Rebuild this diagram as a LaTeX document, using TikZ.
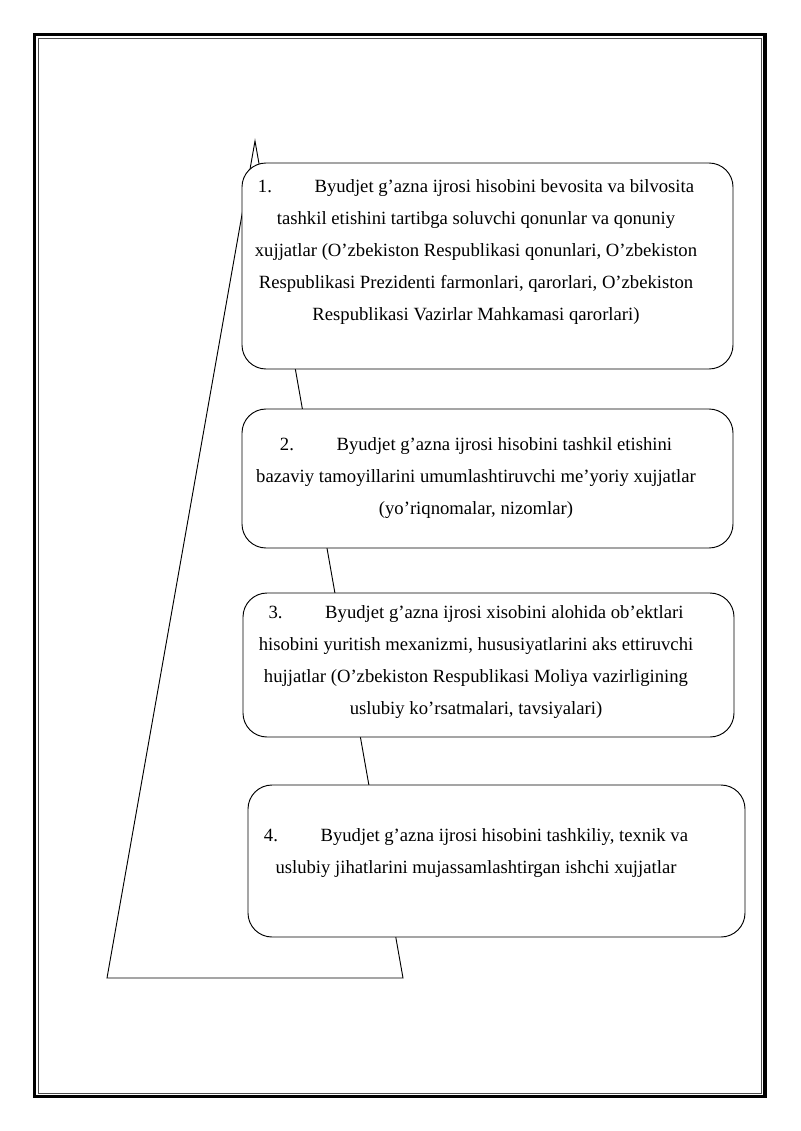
\documentclass[tikz,border=0pt]{standalone}
\usepackage{fontspec}
\setmainfont{Liberation Serif}
\begin{document}
\begin{tikzpicture}[x=0.75pt,y=-0.75pt,
  box/.style={draw=black,line width=0.7pt,fill=white,rounded corners=18pt},
  txt/.style={anchor=base,align=center,inner sep=0pt,font=\fontsize{14pt}{24pt}\selectfont},
  tri/.style={draw=black,line width=0.7pt}]
\useasboundingbox (0,0) rectangle (800,1131);
% page frame
\draw[line width=2.4pt] (34.5,34.5) rectangle (765,1096.5);
\draw[line width=0.6pt,draw=black!70] (38,38) rectangle (761.5,1093);
% triangle
\coordinate (apex) at (255,141);
\coordinate (bl) at (107,978);
\coordinate (br) at (403,978);
\draw[tri] (apex) -- (bl) -- (br) -- cycle;
% boxes
\draw[box] (242,163) rectangle (733,369);
\draw[box] (242,409) rectangle (733,548);
\draw[box] (243,593) rectangle (734,737);
\draw[box] (248,785) rectangle (745,937);
% texts (base anchor = baseline of last line)
\node[txt] (t1) at (476,320) {\makebox[42.5pt][l]{1.}Byudjet g’azna ijrosi hisobini bevosita va bilvosita\\
tashkil etishini tartibga soluvchi qonunlar va qonuniy\\
xujjatlar (O’zbekiston Respublikasi qonunlari, O’zbekiston\\
Respublikasi Prezidenti farmonlari, qarorlari, O’zbekiston\\
Respublikasi Vazirlar Mahkamasi qarorlari)};
\node[txt] (t2) at (476,514) {\makebox[42.5pt][l]{2.}Byudjet g’azna ijrosi hisobini tashkil etishini\\
bazaviy tamoyillarini umumlashtiruvchi me’yoriy xujjatlar\\
(yo’riqnomalar, nizomlar)};
\node[txt] (t3) at (476,714) {\makebox[42.5pt][l]{3.}Byudjet g’azna ijrosi xisobini alohida ob’ektlari\\
hisobini yuritish mexanizmi, hususiyatlarini aks ettiruvchi\\
hujjatlar (O’zbekiston Respublikasi Moliya vazirligining\\
uslubiy ko’rsatmalari, tavsiyalari)};
\node[txt] (t4) at (476,873) {\makebox[42.5pt][l]{4.}Byudjet g’azna ijrosi hisobini tashkiliy, texnik va\\
uslubiy jihatlarini mujassamlashtirgan ishchi xujjatlar};
\end{tikzpicture}
\end{document}
